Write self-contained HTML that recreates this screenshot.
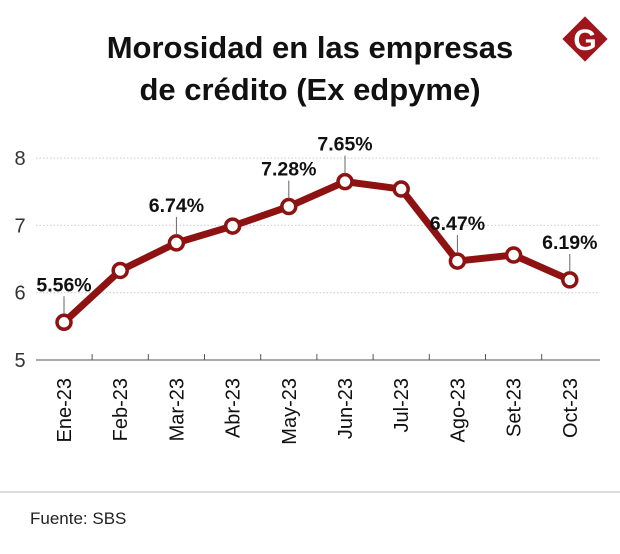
<!DOCTYPE html>
<html><head><meta charset="utf-8"><style>
body{margin:0;background:#fff;font-family:"Liberation Sans",sans-serif;}
</style></head><body>
<svg width="620" height="549" viewBox="0 0 620 549" xmlns="http://www.w3.org/2000/svg">
<text x="310" y="58" text-anchor="middle" font-size="31" font-weight="bold" fill="#111">Morosidad en las empresas</text>
<text x="310" y="100" text-anchor="middle" font-size="31" font-weight="bold" fill="#111">de crédito (Ex edpyme)</text>
<g>
<rect x="569" y="23" width="32" height="32" transform="rotate(45 585 39)" fill="#a0151b"/>
<text x="585" y="50" text-anchor="middle" font-size="30" font-weight="bold" fill="#fff">G</text>
</g>
<g id="grid"></g><g id="axis"></g><g id="series"></g><g id="labels"></g>
<line x1="0" y1="492" x2="620" y2="492" stroke="#bbb" stroke-width="1"/>
<text x="30" y="524" font-size="17" fill="#222">Fuente: SBS</text>
</svg>
<script>
const categories=["Ene-23","Feb-23","Mar-23","Abr-23","May-23","Jun-23","Jul-23","Ago-23","Set-23","Oct-23"];
const values=[5.56,6.33,6.74,6.99,7.28,7.65,7.54,6.47,6.56,6.19];
const labeledIdx=[0,2,4,5,7,9];
const yTicks=[5,6,7,8];
const NS="http://www.w3.org/2000/svg";
const x=i=>64+i*56.2;
const y=v=>360-(v-5)*67.3;
function mk(t,a,p){const e=document.createElementNS(NS,t);for(const k in a)e.setAttribute(k,a[k]);p.appendChild(e);return e;}
const grid=document.getElementById('grid'),axis=document.getElementById('axis'),ser=document.getElementById('series'),lab=document.getElementById('labels');
yTicks.forEach(t=>{
 if(t>5){const g=mk('line',{x1:36,x2:600,y1:y(t),y2:y(t),stroke:'#ccc','stroke-dasharray':'1.5 2'},grid);
 
 }
 const tx=mk('text',{x:20,y:y(t)+7,'text-anchor':'middle','font-size':'20',fill:'#333'},axis);tx.textContent=t;
 
 
});
const base=mk('line',{x1:36,x2:600,y1:360,y2:360,stroke:'#555','stroke-width':1},axis);


categories.forEach((c,i)=>{
 if(i>0){mk('line',{x1:x(i)-28.1,x2:x(i)-28.1,y1:354,y2:360,stroke:'#555'},axis);}
 const t=mk('text',{x:0,y:0,'text-anchor':'end','font-size':'20',fill:'#111',transform:`translate(${x(i)+7},378) rotate(-90)`},axis);
 t.textContent=c;
 
 
});
const pl=mk('polyline',{points:values.map((v,i)=>x(i)+','+y(v)).join(' '),fill:'none',stroke:'#8e1212','stroke-width':7,'stroke-linejoin':'round'},ser);


labeledIdx.forEach(i=>{
 const v=values[i];
 mk('line',{x1:x(i),x2:x(i),y1:y(v)-26,y2:y(v)-8,stroke:'#666','stroke-width':1},lab);
 const t=mk('text',{x:x(i),y:y(v)-31,'text-anchor':'middle','font-size':'19.5','font-weight':'bold',fill:'#111'},lab);
 t.textContent=v.toFixed(2)+'%';
 
 
});
values.forEach((v,i)=>{
 const c=mk('circle',{cx:x(i),cy:y(v),r:7,fill:'#fff',stroke:'#8e1212','stroke-width':3.5},ser);
 
 
});
</script>
</body></html>
